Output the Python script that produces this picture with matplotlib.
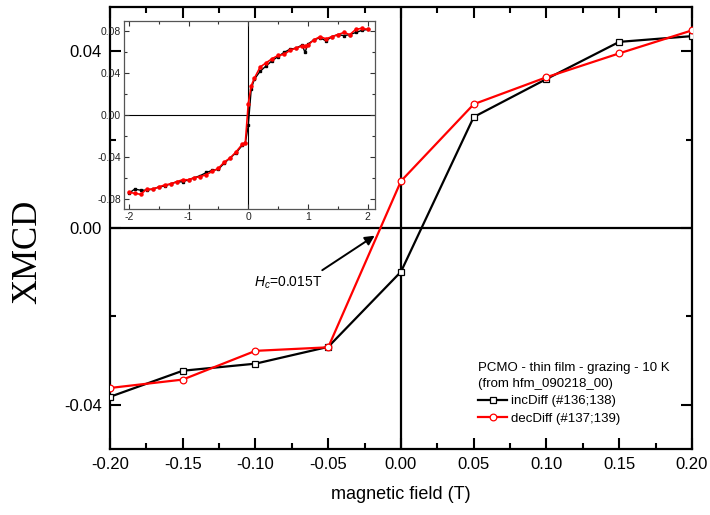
import numpy as np
import matplotlib.pyplot as plt
from matplotlib.ticker import MultipleLocator

plt.rcParams['font.family'] = ['Liberation Sans', 'DejaVu Sans']
plt.rcParams['mathtext.fontset'] = 'custom'
plt.rcParams['mathtext.it'] = 'Liberation Sans:italic'
plt.rcParams['mathtext.rm'] = 'Liberation Sans'
plt.rcParams['axes.unicode_minus'] = False

# main panel data (field in T, XMCD)
campo = [-0.20, -0.15, -0.10, -0.05, 0.00, 0.05, 0.10, 0.15, 0.20]
inc_diff = [-0.0382, -0.0323, -0.0307, -0.0269, -0.0099, 0.0251, 0.0337, 0.0421, 0.0434]
dec_diff = [-0.0362, -0.0343, -0.0278, -0.0270, 0.0106, 0.0280, 0.0341, 0.0395, 0.0447]

# inset data (full loop)
campo_ins = [-2.0, -1.9, -1.8, -1.7, -1.6, -1.5, -1.4, -1.3, -1.2, -1.1, -1.0,
             -0.9, -0.8, -0.7, -0.6, -0.5, -0.4, -0.3, -0.2, -0.1, -0.05, 0.0,
             0.05, 0.1, 0.2, 0.3, 0.4, 0.5, 0.6, 0.7, 0.8, 0.9, 0.95, 1.0,
             1.1, 1.2, 1.3, 1.4, 1.5, 1.6, 1.7, 1.8, 1.9, 2.0]
inc_ins = [-0.075, -0.071, -0.072, -0.072, -0.071, -0.069, -0.068, -0.066, -0.064,
           -0.064, -0.062, -0.060, -0.058, -0.055, -0.053, -0.052, -0.046, -0.041,
           -0.036, -0.029, -0.027, -0.010, 0.025, 0.034, 0.042, 0.047, 0.052, 0.056,
           0.060, 0.063, 0.064, 0.067, 0.060, 0.068, 0.072, 0.074, 0.071, 0.075,
           0.077, 0.076, 0.077, 0.079, 0.081, 0.082]
dec_ins = [-0.074, -0.075, -0.076, -0.071, -0.071, -0.069, -0.067, -0.066, -0.064,
           -0.062, -0.062, -0.060, -0.059, -0.057, -0.054, -0.051, -0.045, -0.041,
           -0.035, -0.028, -0.027, 0.011, 0.028, 0.035, 0.046, 0.050, 0.054, 0.057,
           0.058, 0.062, 0.064, 0.066, 0.066, 0.067, 0.072, 0.075, 0.073, 0.075,
           0.077, 0.079, 0.077, 0.082, 0.083, 0.082]

fig = plt.figure(figsize=(7.1, 5.15), dpi=100)
ax = fig.add_axes([0.1549, 0.1282, 0.8197, 0.8583])

ax.axhline(0, color='k', lw=1.6, zorder=1)
ax.axvline(0, color='k', lw=1.6, zorder=1)

ax.plot(campo, inc_diff, color='k', lw=1.6, marker='s', ms=4.5, mfc='white',
        mec='k', mew=0.9, label='incDiff (#136;138)', zorder=3)
ax.plot(campo, dec_diff, color='red', lw=1.6, marker='o', ms=4.8, mfc='white',
        mec='red', mew=0.9, label='decDiff (#137;139)', zorder=4)

ax.set_xlim(-0.2, 0.2)
ax.set_ylim(-0.05, 0.05)
ax.xaxis.set_major_locator(MultipleLocator(0.05))
ax.xaxis.set_minor_locator(MultipleLocator(0.025))
ax.yaxis.set_major_locator(MultipleLocator(0.04))
ax.yaxis.set_minor_locator(MultipleLocator(0.02))
ax.set_xticklabels([f"{v:.2f}" for v in ax.get_xticks()])
ax.set_yticklabels([f"{v:.2f}" for v in ax.get_yticks()])
ax.tick_params(which='both', direction='in', top=True, right=True, width=1.5,
               labelsize=12, pad=6)
ax.tick_params(which='major', length=8)
ax.tick_params(which='minor', length=4)
for s in ax.spines.values():
    s.set_linewidth(1.6)

ax.set_xlabel('magnetic field (T)', fontsize=13, labelpad=10)
fig.text(28 / 710, 1 - 252 / 515, 'XMCD', rotation=90, ha='center', va='center',
         fontsize=25, family='Liberation Serif')

# flecha del campo coercitivo
ax.annotate('', xy=(-0.0165, -0.0014), xytext=(-0.0557, -0.0099),
            arrowprops=dict(arrowstyle='-|>', color='k', lw=1.4, mutation_scale=14))
ax.text(-0.0777, -0.0124, r'$H_c$=0.015T', fontsize=10, ha='center', va='center')

leg = ax.legend(loc='upper left', bbox_to_anchor=(0.621, 0.212), frameon=False,
                fontsize=9.5, title='PCMO - thin film - grazing - 10 K\n(from hfm_090218_00)',
                title_fontsize=9.5, alignment='left', handlelength=2.2,
                handletextpad=0.3, borderpad=0, labelspacing=0.4)
leg.get_title().set_linespacing(1.45)

# inset con el ciclo completo
axi = fig.add_axes([0.1746, 0.5942, 0.3535, 0.365])
axi.axhline(0, color='k', lw=0.8, zorder=1)
axi.axvline(0, color='k', lw=0.8, zorder=1)
axi.plot(campo_ins, inc_ins, color='k', lw=1.0, marker='s', ms=2.0, zorder=3)
axi.plot(campo_ins, dec_ins, color='red', lw=1.2, marker='o', ms=2.2, zorder=4)
axi.set_xlim(-2.08, 2.12)
axi.set_ylim(-0.09, 0.09)
axi.xaxis.set_major_locator(MultipleLocator(1))
axi.xaxis.set_minor_locator(MultipleLocator(0.5))
axi.yaxis.set_major_locator(MultipleLocator(0.04))
axi.yaxis.set_minor_locator(MultipleLocator(0.02))
axi.set_yticklabels([f"{v:.2f}" for v in axi.get_yticks()])
axi.tick_params(which='both', direction='in', top=True, right=True, width=0.8,
                labelsize=7.5, pad=2, color='#333333', labelcolor='#222222')
axi.tick_params(which='major', length=3.5)
axi.tick_params(which='minor', length=2)
for s in axi.spines.values():
    s.set_linewidth(0.9)
    s.set_color('#555555')

fig.savefig('out.png', dpi=100)
